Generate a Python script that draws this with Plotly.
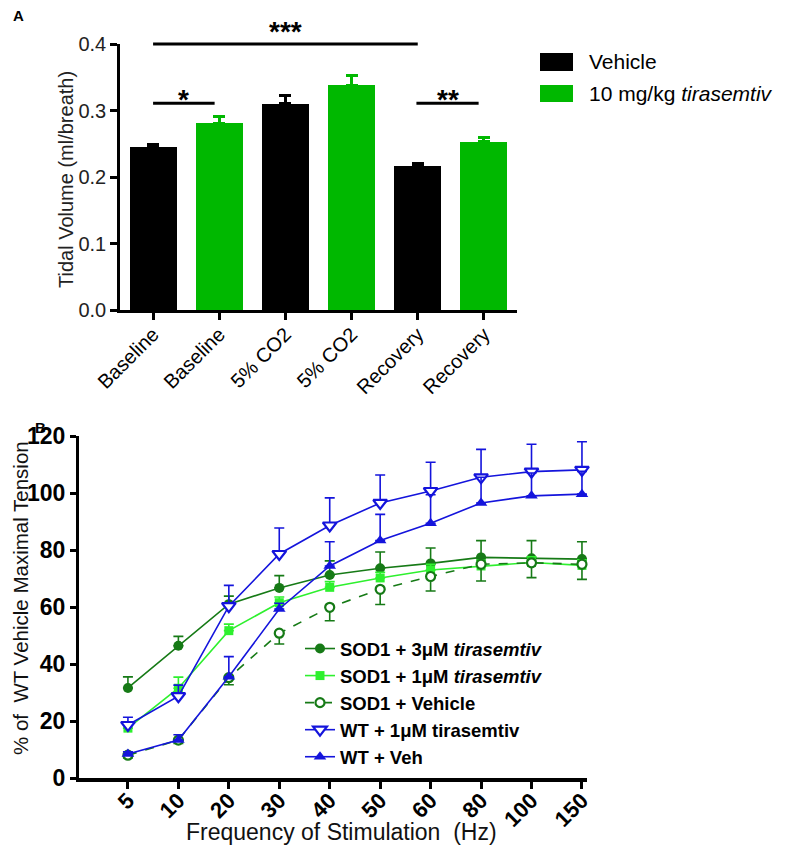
import plotly.graph_objects as go

# ---------------- Panel A data ----------------
a_labels = ["Baseline", "Baseline", "5% CO2", "5% CO2", "Recovery", "Recovery"]
a_vehicle_pos = [0, 2, 4]
a_vehicle_vals = [0.245, 0.310, 0.217]
a_vehicle_err = [0.004, 0.012, 0.004]
a_tira_pos = [1, 3, 5]
a_tira_vals = [0.281, 0.338, 0.253]
a_tira_err = [0.010, 0.014, 0.007]

# ---------------- Panel B data ----------------
b_freq = ["5", "10", "20", "30", "40", "50", "60", "80", "100", "150"]
sod1_3um = [31.6, 46.4, 61.0, 66.7, 71.2, 73.6, 75.3, 77.4, 77.1, 76.8]
sod1_3um_err = [3.9, 3.3, 2.8, 4.3, 5.0, 5.7, 5.4, 5.9, 6.2, 6.1]
sod1_1um = [17.5, 31.5, 51.7, 61.5, 66.9, 70.2, 73.0, 74.4, 75.6, 74.6]
sod1_1um_err = [1.5, 3.9, 2.3, 2.0, 2.0, 2.0, 2.0, 2.0, 2.0, 2.0]
sod1_veh = [8.0, 13.3, 35.2, 50.8, 59.9, 66.2, 70.7, 75.0, 75.5, 75.0]
sod1_veh_err = [1.0, 1.2, 2.5, 3.8, 4.7, 5.3, 5.1, 5.9, 5.2, 5.3]
wt_1um = [18.6, 28.7, 60.3, 78.6, 88.6, 96.5, 100.7, 105.5, 107.5, 108.1]
wt_1um_err = [2.7, 3.9, 7.3, 9.1, 9.7, 9.8, 10.1, 9.8, 9.6, 9.9]
wt_veh = [8.4, 13.3, 35.5, 59.3, 74.4, 83.3, 89.4, 96.5, 99.0, 99.6]
wt_veh_err = [0.8, 1.9, 7.1, 2.0, 8.5, 9.2, 10.0, 9.0, 8.0, 8.0]

BLACK = "#000000"
GREEN_A = "#00b800"
DKGREEN = "#167a16"
LTGREEN = "#2ef02e"
BLUE = "#1414dc"
FONT = "Liberation Sans"

# page offset of the figure inside the html body (default body margin)
OFF = 8
W, H = 785 - OFF, 856 - OFF


def px(x):
    return (x - OFF) / W


def py(y):
    return 1 - (y - OFF) / H


fig = go.Figure()

# Panel A bars
fig.add_trace(go.Bar(
    x=a_vehicle_pos, y=a_vehicle_vals, width=0.71, marker_color=BLACK,
    marker_line_width=0, name="Vehicle", showlegend=False,
    error_y=dict(type="data", array=a_vehicle_err, arrayminus=[0]*3, symmetric=False,
                 color=BLACK, thickness=3, width=6),
    xaxis="x", yaxis="y"))
fig.add_trace(go.Bar(
    x=a_tira_pos, y=a_tira_vals, width=0.71, marker_color=GREEN_A,
    marker_line_width=0, name="10 mg/kg tirasemtiv", showlegend=False,
    error_y=dict(type="data", array=a_tira_err, arrayminus=[0]*3, symmetric=False,
                 color=GREEN_A, thickness=3, width=6),
    xaxis="x", yaxis="y"))


# Panel B series
def add_series(y, err, name, color, symbol, size, dash="solid", down=False, fill=True):
    e = dict(type="data", symmetric=False, color=color, thickness=1.6, width=5)
    if down:
        e["array"] = [0]*len(err)
        e["arrayminus"] = err
    else:
        e["array"] = err
        e["arrayminus"] = [0]*len(err)
    fig.add_trace(go.Scatter(
        x=b_freq, y=y, mode="lines+markers", name=name,
        line=dict(color=color, width=1.6, dash=dash),
        marker=dict(symbol=symbol, size=size,
                    color=color if fill else "white",
                    line=dict(color=color, width=0 if fill else 2.2)),
        error_y=e, xaxis="x2", yaxis="y2", legend="legend2", cliponaxis=False))


add_series(sod1_3um, sod1_3um_err, "SOD1 + 3\u03bcM <i>tirasemtiv</i>", DKGREEN, "circle", 10)
add_series(sod1_1um, sod1_1um_err, "SOD1 + 1\u03bcM <i>tirasemtiv</i>", LTGREEN, "square", 9)
add_series(sod1_veh, sod1_veh_err, "SOD1 + Vehicle", DKGREEN, "circle", 9, dash="dash", down=True, fill=False)
add_series(wt_1um, wt_1um_err, "WT + 1\u03bcM tirasemtiv", BLUE, "triangle-down", 12, fill=False)
add_series(wt_veh, wt_veh_err, "WT + Veh", BLUE, "triangle-up", 11)

xa_dom = [px(120), px(517)]
ya_dom = [py(310), py(44)]
xb_dom = [px(79), px(587)]
yb_dom = [py(778), py(436)]

a_range = [-0.5, 5.5]


def xd(v):
    return (v - a_range[0]) / (a_range[1] - a_range[0])


def yd(v):
    return v / 0.4


shapes = [
    dict(type="line", xref="x domain", yref="y domain", x0=xd(0), x1=xd(4), y0=yd(0.4), y1=yd(0.4),
         line=dict(color="black", width=3)),
    dict(type="line", xref="x domain", yref="y domain", x0=xd(0), x1=xd(0.93), y0=yd(0.311), y1=yd(0.311),
         line=dict(color="black", width=3)),
    dict(type="line", xref="x domain", yref="y domain", x0=xd(3.98), x1=xd(4.92), y0=yd(0.311), y1=yd(0.311),
         line=dict(color="black", width=3)),
    # Panel A legend boxes
    dict(type="rect", xref="paper", yref="paper", x0=px(540), x1=px(573), y0=py(71), y1=py(53),
         fillcolor=BLACK, line=dict(width=0)),
    dict(type="rect", xref="paper", yref="paper", x0=px(540), x1=px(573), y0=py(102), y1=py(85),
         fillcolor=GREEN_A, line=dict(width=0)),
]

annotations = [
    dict(text="<b>***</b>", x=2, y=0.4, xref="x", yref="y", yanchor="middle", showarrow=False,
         yshift=13, font=dict(family=FONT, size=28, color="black")),
    dict(text="<b>*</b>", x=0.46, y=0.311, xref="x", yref="y", yanchor="middle", showarrow=False,
         yshift=4, font=dict(family=FONT, size=28, color="black")),
    dict(text="<b>**</b>", x=4.45, y=0.311, xref="x", yref="y", yanchor="middle", showarrow=False,
         yshift=4, font=dict(family=FONT, size=28, color="black")),
    dict(text="Vehicle", x=px(587), y=py(62), xref="paper", yref="paper", xanchor="left",
         yanchor="middle", showarrow=False, font=dict(family=FONT, size=21, color="black")),
    dict(text="10 mg/kg <i>tirasemtiv</i>", x=px(587), y=py(94), xref="paper", yref="paper",
         xanchor="left", yanchor="middle", showarrow=False, font=dict(family=FONT, size=21, color="black")),
    dict(text="<b>A</b>", x=px(18), y=py(16), xref="paper", yref="paper", xanchor="center",
         yanchor="middle", showarrow=False, font=dict(family=FONT, size=15, color="black")),
    dict(text="<b>B</b>", x=px(40), y=py(428), xref="paper", yref="paper", xanchor="center",
         yanchor="middle", showarrow=False, font=dict(family=FONT, size=15, color="black")),
    # axis titles
    dict(text="Tidal Volume (ml/breath)", x=px(66), y=py(180), xref="paper", yref="paper",
         xanchor="center", yanchor="middle", textangle=-90, showarrow=False,
         font=dict(family=FONT, size=20, color="#222")),
    dict(text="% of  WT Vehicle Maximal Tension", x=px(20), y=py(598), xref="paper", yref="paper",
         xanchor="center", yanchor="middle", textangle=-90, showarrow=False,
         font=dict(family=FONT, size=20.5, color="#111")),
    dict(text="Frequency of Stimulation  (Hz)", x=px(341), y=py(832), xref="paper", yref="paper",
         xanchor="center", yanchor="middle", showarrow=False,
         font=dict(family=FONT, size=23, color="#111")),
]

fig.update_layout(
    template="none",
    width=W, height=H,
    margin=dict(l=0, r=0, t=0, b=0, autoexpand=False),
    paper_bgcolor="white", plot_bgcolor="white",
    font=dict(family=FONT, color="black"),
    bargap=0,
    showlegend=True,
    shapes=shapes, annotations=annotations,
    xaxis=dict(domain=xa_dom, anchor="y", range=a_range, tickmode="array", automargin=False,
               tickvals=list(range(len(a_labels))), ticktext=a_labels, tickangle=-45,
               showline=True, linecolor="black", linewidth=2.5, ticks="outside", ticklen=7,
               tickwidth=2.5, tickcolor="black", showgrid=False, zeroline=False,
               ticklabelstandoff=-5,
               tickfont=dict(family=FONT, size=20, color="black")),
    yaxis=dict(domain=ya_dom, anchor="x", range=[0, 0.4], tickvals=[0, 0.1, 0.2, 0.3, 0.4],
               ticktext=["0.0", "0.1", "0.2", "0.3", "0.4"], automargin=False,
               showline=True, linecolor="black", linewidth=2.5, ticks="outside", ticklen=7,
               tickwidth=2.5, tickcolor="black", showgrid=False, zeroline=False,
               tickfont=dict(family=FONT, size=20, color="#222")),
    xaxis2=dict(domain=xb_dom, anchor="y2", type="category", range=[-0.97, 9.1], automargin=False,
                tickangle=-45, showline=True, linecolor="black", linewidth=4, ticks="outside",
                ticklen=7, tickwidth=3, tickcolor="black", showgrid=False, zeroline=False,
                ticklabelstandoff=-10,
                tickfont=dict(family=FONT, size=22, color="black", weight="bold")),
    yaxis2=dict(domain=yb_dom, anchor="x2", range=[0, 120], tickvals=[0, 20, 40, 60, 80, 100, 120],
                automargin=False,
                showline=True, linecolor="black", linewidth=3, ticks="outside", ticklen=6,
                tickwidth=3, tickcolor="black", showgrid=False, zeroline=False,
                tickfont=dict(family=FONT, size=23, color="black", weight="bold")),
    legend2=dict(x=292 / W, y=1 - 622 / H, xanchor="left", yanchor="top", bgcolor="rgba(0,0,0,0)",
                 borderwidth=0,
                 font=dict(family=FONT, size=18.5, color="black", weight="bold"),
                 tracegroupgap=0, itemwidth=30),
)

fig.write_html("out.html")
